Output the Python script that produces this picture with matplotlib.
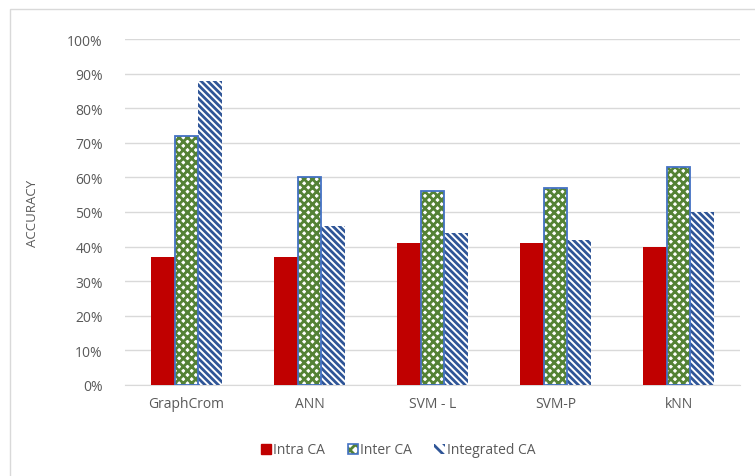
import numpy as np
import matplotlib
matplotlib.use("Agg")
from matplotlib import pyplot as plt
from matplotlib.patches import Rectangle

plt.rcParams['font.family'] = ['Open Sans', 'DejaVu Sans']
plt.rcParams['hatch.linewidth'] = 2.0

categories = ["GraphCrom", "ANN", "SVM - L", "SVM-P", "kNN"]
intra_ca = [37, 37, 41, 41, 40]
inter_ca = [72, 60, 56, 57, 63]
integrated_ca = [88, 46, 44, 42, 50]

red = '#C00000'
green = '#548235'
blue_edge = '#4472C4'
stripe = '#2F5597'
txt = '#595959'
hatch_inter = 'xxxx'
hatch_integ = '\\' * 5

fig = plt.figure(figsize=(7.55, 4.77), dpi=100)
fig.patches.append(Rectangle((10/755, -0.1), 1.2, 1 - 10/477 + 0.1, transform=fig.transFigure,
                             fill=False, edgecolor='#D9D9D9', linewidth=1))
ax = fig.add_axes([125/755, 1 - 386/477, 615/755, 346/477])

x = np.arange(len(categories))
w = 0.195
ax.bar(x - w, intra_ca, w, color=red, zorder=3)
ax.bar(x, inter_ca, w, facecolor='white', edgecolor=green, hatch=hatch_inter, linewidth=0, zorder=3)
ax.bar(x, inter_ca, w, fill=False, edgecolor=blue_edge, linewidth=1.3, zorder=4)
ax.bar(x + w, integrated_ca, w, facecolor='white', edgecolor=stripe, hatch=hatch_integ, linewidth=0, zorder=3)

ax.set_xlim(-0.5, len(categories) - 0.5)
ax.set_ylim(0, 100)
ax.set_yticks(np.arange(0, 101, 10))
ax.set_yticklabels([f"{v}%" for v in range(0, 101, 10)])
ax.set_xticks(x)
ax.set_xticklabels(categories)
ax.tick_params(length=0, labelsize=10, colors=txt)
ax.tick_params(axis='y', pad=16)
ax.tick_params(axis='x', pad=8)
ax.yaxis.grid(True, color='#D9D9D9', linewidth=1, zorder=0)
ax.set_axisbelow(True)
for s in ['top', 'right', 'left']:
    ax.spines[s].set_visible(False)
ax.spines['bottom'].set_color('#D9D9D9')
ax.set_ylabel("ACCURACY", fontsize=9.5, color=txt, labelpad=20)

# legend
h1 = Rectangle((0, 0), 1, 1, color=red)
h2a = Rectangle((0, 0), 1, 1, facecolor='white', edgecolor=green, hatch='xxx', linewidth=0)
h2b = Rectangle((0, 0), 1, 1, fill=False, edgecolor=blue_edge, linewidth=1.2)
h3 = Rectangle((0, 0), 1, 1, facecolor='white', edgecolor=stripe, hatch='\\\\\\', linewidth=0)
leg = fig.legend([h1, (h2a, h2b), h3], ["Intra CA", "Inter CA", "Integrated CA"], loc='center',
                 bbox_to_anchor=(398/755, 1 - 451/477), ncol=3, frameon=False, fontsize=10,
                 handlelength=0.75, handleheight=0.75, handletextpad=0.15, columnspacing=1.6)
for t in leg.get_texts():
    t.set_color(txt)

fig.savefig("out.png", dpi=100)
